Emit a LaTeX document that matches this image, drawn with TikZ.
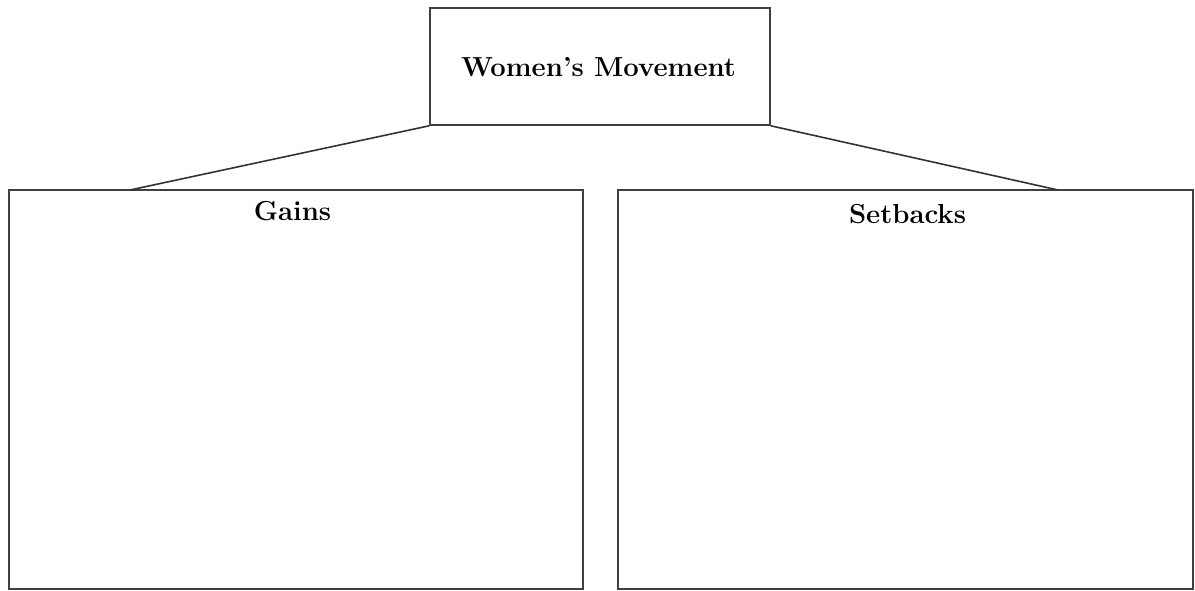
\documentclass[tikz,border=0pt]{standalone}
\usepackage{fontspec}
\begin{document}
\begin{tikzpicture}[x=1pt,y=-1pt,
  boxline/.style={draw=black!75, line width=1.6pt, inner sep=0pt},
  title/.style={font=\fontsize{27.5}{32}\bfseries\selectfont, inner sep=0pt},
  link/.style={draw=black!80, line width=1.6pt}]
\useasboundingbox (0,0) rectangle (1195,591);
\node[boxline, minimum width=340pt, minimum height=117pt] (top) at (600,66.5) {};
\node[title, anchor=base] (toptext) at (598.5,77) {Women's Movement};
\node[boxline, minimum width=574pt, minimum height=399pt] (gains) at (296,389.5) {};
\node[title, anchor=base] (gainstext) at (292.5,220) {Gains};
\node[boxline, minimum width=575pt, minimum height=399pt] (setbacks) at (905.5,389.5) {};
\node[title, anchor=base] (setbackstext) at (907.5,223) {Setbacks};
\coordinate (lj) at (130,190);
\coordinate (rj) at (1058,190);
\draw[link] (top.south west) -- (lj);
\draw[link] (top.south east) -- (rj);
\end{tikzpicture}
\end{document}
